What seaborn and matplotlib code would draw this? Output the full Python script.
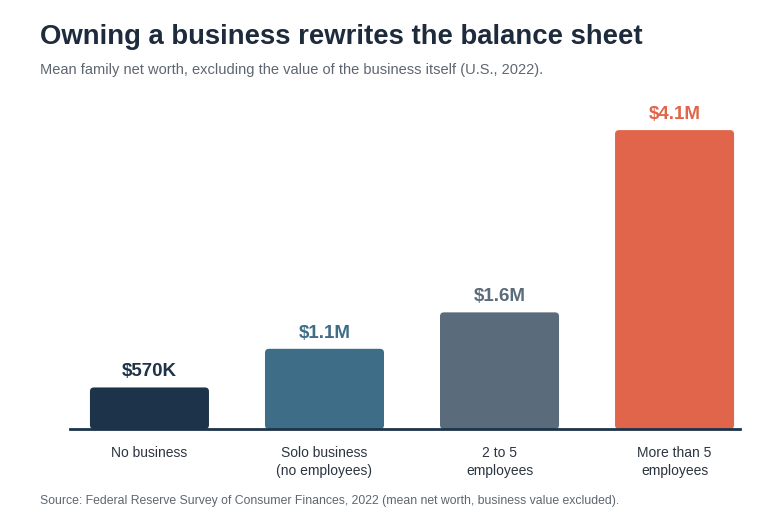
import numpy as np
import pandas as pd
import seaborn as sns
import matplotlib.pyplot as plt
from matplotlib.patches import FancyBboxPatch

categories = ["No business", "Solo business\n(no employees)", "2 to 5\nemployees", "More than 5\nemployees"]
net_worth_m = [0.57, 1.1, 1.6, 4.1]
value_labels = ["$570K", "$1.1M", "$1.6M", "$4.1M"]
colors = ["#1d3349", "#3e6d88", "#5a6b7c", "#e0654a"]

df = pd.DataFrame({"group": categories, "worth": net_worth_m})

sns.set_theme(style="white")
plt.rcParams['font.family'] = ['Liberation Sans', 'DejaVu Sans']

fig = plt.figure(figsize=(7.8, 5.2), dpi=100)
ax = fig.add_axes([70 / 780, 91 / 520, 670 / 780, 329 / 520])

sns.barplot(data=df, x="group", y="worth", hue="group", palette=colors,
            width=0.68, saturation=1, legend=False, ax=ax)

ax.set_xlim(-0.454, 3.374)
ax.set_ylim(0, 329 / 72.9)

# swap square bars for slightly rounded ones
px_x = 670 / (3.374 + 0.454)
px_y = 72.9
for p in list(ax.patches):
    x, y = p.get_x(), p.get_y()
    w, h = p.get_width(), p.get_height()
    fc = p.get_facecolor()
    p.remove()
    r = 4 / px_x
    ax.add_patch(FancyBboxPatch((x + r, y + r * px_x / px_y), w - 2 * r, h - 2 * r * px_x / px_y,
                                boxstyle=f"round,pad={r},rounding_size={r}",
                                mutation_aspect=px_x / px_y,
                                fc=fc, ec="none", zorder=2))

for i, (v, lab) in enumerate(zip(net_worth_m, value_labels)):
    ax.text(i, v + 7 / px_y, lab, ha="center", va="bottom", fontsize=13.5,
            fontweight="bold", color=colors[i])

sns.despine(ax=ax, left=True, top=True, right=True)
ax.spines["bottom"].set_color("#1d3349")
ax.spines["bottom"].set_linewidth(2)
ax.set_yticks([])
ax.set_xlabel("")
ax.set_ylabel("")
ax.tick_params(axis="x", length=0, pad=12, labelsize=10, colors="#2b3440")
for t in ax.get_xticklabels():
    t.set_linespacing(1.4)

fig.text(40 / 780, 1 - 37 / 520, "Owning a business rewrites the balance sheet",
         fontsize=19.8, fontweight="bold", color="#1d2b3c", va="center", ha="left")
fig.text(40 / 780, 1 - 70 / 520,
         "Mean family net worth, excluding the value of the business itself (U.S., 2022).",
         fontsize=10.5, color="#5d6670", va="center", ha="left")
fig.text(40 / 780, 1 - 501 / 520,
         "Source: Federal Reserve Survey of Consumer Finances, 2022 (mean net worth, business value excluded).",
         fontsize=8.8, color="#5d6670", va="center", ha="left")

fig.savefig("out.png", dpi=100)
